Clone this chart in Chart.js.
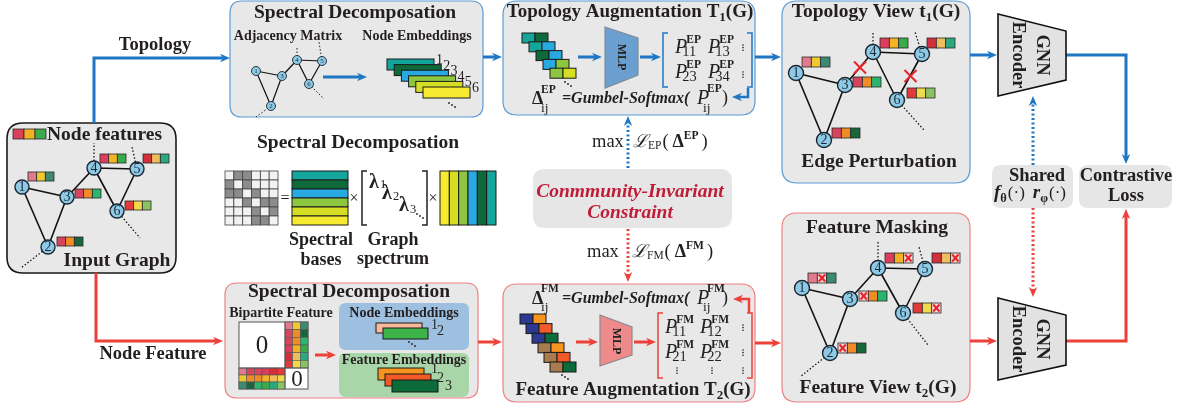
<!DOCTYPE html>
<html><head><meta charset="utf-8">
<script src="https://cdn.jsdelivr.net/npm/chart.js@4"></script>
<style>html,body{margin:0;padding:0;background:#fff}#wrap{width:1178px;height:409px;position:relative}</style>
</head><body><div id="wrap"><canvas id="c"></canvas></div>
<script>
// ---------------- DATA ----------------
const nodeNames = ['1','2','3','4','5','6'];
const edgeList = [[0,2],[0,1],[1,2],[2,3],[3,4],[3,5],[4,5]];
// input graph
const inputNodeX = [22,48,67,94,137,117];
const inputNodeY = [187,247,197,168,169,211];
const inputFeatX = [28,57,75,100,143,125];
const inputFeatY = [172,237,189,154,154,201];
const inputDots = [[3,94,143],[4,132,147],[5,140,238],[1,21,268]];
// adjacency sketch
const adjNodeX = [256,271,282,297,322,309];
const adjNodeY = [71,106,76,60,61,84];
const adjDots = [[3,297,47],[4,319,42],[5,324,99],[1,256,117]];
// topology view
const topoNodeX = [796,824,845,873,922,897];
const topoNodeY = [73,140,85,52,54,100];
const topoFeatX = [802,832,853,880,927,907];
const topoFeatY = [57,128,77,38,38,88];
const topoDots = [[3,873,33],[4,915,32],[5,924,130]];
const droppedEdges = [[2,3],[4,5]];
// feature view
const featNodeX = [802,830,850,878,925,903];
const featNodeY = [288,353,299,268,269,313];
const featFeatX = [808,838,859,885,932,913];
const featFeatY = [273,343,291,253,253,303];
const featDots = [[3,878,242],[4,919,247],[5,928,345],[1,800,377]];
const maskedFeature = [1,0,0,2,2,2];
const nodeFeatureColors = [
  ['#e07a8c','#eec92f','#3d8a72'],
  ['#d8435e','#f08c28','#17673a'],
  ['#d8435e','#f08c28','#2cb56c'],
  ['#dc3d5c','#f4b224','#3aab4b'],
  ['#d2303c','#efbd5c','#2aa882'],
  ['#e3393b','#f2d84b','#8bc263']
];
const legendColors = ['#d9415a','#f4b223','#3aaa4a'];
const spectralColors = ['#14a59b','#0e6a3b','#28a9e1','#8dc63f','#d6de23','#f6eb31'];
const embLabels = ['1','2','3','4','5','6'];
const topoEmbRows = [[0,1],[0,2],[1,2],[2,3],[3,4]];
const featEmbPalette = ['#2b3990','#f7941d','#f15a29','#0b6b3a','#a97c50'];
const featEmbRows = [[0,1],[0,2],[0,3],[4,1],[4,2],[4,3]];
const adjMatrix = [
  [0,1,1,0,0,0],
  [1,0,1,0,0,0],
  [1,1,0,1,0,0],
  [0,0,1,0,1,1],
  [0,0,0,1,0,1],
  [0,0,0,1,1,0]
];
const nodeEmbColors = ['#f9b89a','#3cb44a'];
const featureEmbColors = ['#f7941d','#f15a24','#0d6b3a'];

// ---------------- STYLE ----------------
const FF = '"Liberation Serif","Times New Roman",serif';
const INK = '#231f20';
const BLUE = '#1f77c3';
const RED = '#ec4038';
const BOXF = '#e8e8e8';
const BSTROKE = '#5b9bd5';
const RSTROKE = '#f08080';
const NODEF = '#8ecae6';
const f = (s)=>s+'px '+FF;
const B = (s)=>'bold '+s+'px '+FF;
const BI = (s)=>'bold italic '+s+'px '+FF;
const I = (s)=>'italic '+s+'px '+FF;
const TITLE = 19.5, LABEL = 18.5, SMALL = 14;

let ctx, X, Y;
function setup(chart){ ctx = chart.ctx; const sx = chart.scales.x, sy = chart.scales.y; X = v=>sx.getPixelForValue(v); Y = v=>sy.getPixelForValue(v); }
function rrect(x1,y1,x2,y2,r,fill,stroke,lw){
  ctx.save(); ctx.beginPath();
  const a=X(x1),b=Y(y1),c=X(x2),d=Y(y2);
  ctx.moveTo(a+r,b); ctx.lineTo(c-r,b); ctx.quadraticCurveTo(c,b,c,b+r); ctx.lineTo(c,d-r); ctx.quadraticCurveTo(c,d,c-r,d);
  ctx.lineTo(a+r,d); ctx.quadraticCurveTo(a,d,a,d-r); ctx.lineTo(a,b+r); ctx.quadraticCurveTo(a,b,a+r,b); ctx.closePath();
  if(fill){ctx.fillStyle=fill; ctx.fill();}
  if(stroke){ctx.strokeStyle=stroke; ctx.lineWidth=lw||1; ctx.stroke();}
  ctx.restore();
}
function rect(x,y,w,h,fill,stroke,lw){
  ctx.save(); const a=X(x),b=Y(y),c=X(x+w),d=Y(y+h);
  if(fill){ctx.fillStyle=fill; ctx.fillRect(a,b,c-a,d-b);}
  if(stroke){ctx.strokeStyle=stroke; ctx.lineWidth=lw||1; ctx.strokeRect(a,b,c-a,d-b);}
  ctx.restore();
}
function poly(pts,fill,stroke,lw){
  ctx.save(); ctx.beginPath(); pts.forEach((p,i)=>{ if(i)ctx.lineTo(X(p[0]),Y(p[1])); else ctx.moveTo(X(p[0]),Y(p[1])); }); ctx.closePath();
  if(fill){ctx.fillStyle=fill; ctx.fill();} if(stroke){ctx.strokeStyle=stroke; ctx.lineWidth=lw||1; ctx.stroke();} ctx.restore();
}
function line(pts,color,lw,dash){
  ctx.save(); ctx.strokeStyle=color; ctx.lineWidth=lw; ctx.setLineDash(dash||[]); ctx.beginPath();
  pts.forEach((p,i)=>{ if(i)ctx.lineTo(X(p[0]),Y(p[1])); else ctx.moveTo(X(p[0]),Y(p[1])); }); ctx.stroke(); ctx.restore();
}
function arrow(pts,color,lw,dash,head){
  head = head||10;
  const P = pts.map(p=>[X(p[0]),Y(p[1])]); const n=P.length;
  const [ex,ey]=P[n-1],[bx,by]=P[n-2]; const ang=Math.atan2(ey-by,ex-bx);
  const c=Math.cos(ang), s=Math.sin(ang);
  ctx.save(); ctx.strokeStyle=color; ctx.fillStyle=color; ctx.lineWidth=lw; ctx.setLineDash(dash||[]);
  ctx.beginPath(); ctx.moveTo(P[0][0],P[0][1]); for(let i=1;i<n-1;i++) ctx.lineTo(P[i][0],P[i][1]);
  ctx.lineTo(ex-c*head*0.7, ey-s*head*0.7); ctx.stroke(); ctx.setLineDash([]);
  const hw=head*0.42;
  ctx.beginPath(); ctx.moveTo(ex,ey);
  ctx.lineTo(ex-c*head-s*hw, ey-s*head+c*hw);
  ctx.lineTo(ex-c*head*0.7, ey-s*head*0.7);
  ctx.lineTo(ex-c*head+s*hw, ey-s*head-c*hw); ctx.closePath(); ctx.fill(); ctx.restore();
}
function text(str,x,y,font,color,align,base){
  ctx.save(); ctx.font=font; ctx.fillStyle=color||INK; ctx.textAlign=align||'left'; ctx.textBaseline=base||'alphabetic';
  ctx.fillText(str,X(x),Y(y)); ctx.restore();
}
function rich(segs,x,y,align,color){
  ctx.save(); ctx.fillStyle=color||INK; ctx.textBaseline='alphabetic'; ctx.textAlign='left';
  let tot=0; segs.forEach(s=>{ctx.font=s[1]; tot+=ctx.measureText(s[0]).width+(s[2]||0);});
  let cx = align==='center'? X(x)-tot/2 : X(x);
  segs.forEach(s=>{ctx.font=s[1]; cx+=(s[2]||0); ctx.fillText(s[0],cx,Y(y)+(s[3]||0)); cx+=ctx.measureText(s[0]).width;});
  ctx.restore();
}
function vtext(str,x,y,font,color){
  ctx.save(); ctx.translate(X(x),Y(y)); ctx.rotate(Math.PI/2); ctx.font=font; ctx.fillStyle=color||INK; ctx.textAlign='center'; ctx.textBaseline='middle';
  ctx.fillText(str,0,0); ctx.restore();
}
function dotsDiag(x,y){ ctx.save(); ctx.fillStyle=INK; for(let k=0;k<3;k++){ctx.beginPath(); ctx.arc(X(x+k*3),Y(y+k*2),0.9,0,7); ctx.fill();} ctx.restore(); }
function dotsV(x,y){ ctx.save(); ctx.fillStyle=INK; for(let k=0;k<3;k++){ctx.beginPath(); ctx.arc(X(x),Y(y+k*2.6),0.8,0,7); ctx.fill();} ctx.restore(); }
function graphEdges(xs,ys,dots,lw){
  edgeList.forEach(e=>line([[xs[e[0]],ys[e[0]]],[xs[e[1]],ys[e[1]]]],'#111',lw));
  dots.forEach(d=>line([[xs[d[0]],ys[d[0]]],[d[1],d[2]]],'#111',lw*0.8,[1.5,2]));
}
function nodeLabels(xs,ys,font){ xs.forEach((x,i)=>text(nodeNames[i],x,ys[i]+0.5,font,'#1a2a38','center','middle')); }
function feats(xs,ys,w,h,masks){
  xs.forEach((x,i)=>{ const cw=w/3; for(let k=0;k<3;k++){
    const m = masks && masks[i]===k;
    rect(x+k*cw,ys[i],cw,h,m?'#f3d6d6':nodeFeatureColors[i][k],'#2a2a2a',0.8);
    if(m){ line([[x+k*cw+1.5,ys[i]+1.5],[x+(k+1)*cw-1.5,ys[i]+h-1.5]],'#e8232a',2); line([[x+(k+1)*cw-1.5,ys[i]+1.5],[x+k*cw+1.5,ys[i]+h-1.5]],'#e8232a',2); }
  }});
}
function drawP(x,y,sub,sup){
  ctx.save(); ctx.font=I(20); const w=ctx.measureText('P').width; ctx.restore();
  text('P',x,y,I(20));
  text(sup,x+w-1,y-10,B(11.5));
  text(sub,x+w-5,y+3,f(14.5));
}
function bracket(x,y1,y2,dir,color){ line([[x+dir*5,y1],[x,y1],[x,y2],[x+dir*5,y2]],color,1.5); }

function drawBack(chart){
  setup(chart);
  // boxes
  rrect(7,123,176,273,16,BOXF,'#1a1a1a',1.6);
  rrect(230,1,483,117,12,BOXF,BSTROKE,1.2);
  rrect(503,1,755,115,14,BOXF,BSTROKE,1.2);
  rrect(782,1,970,183,15,BOXF,BSTROKE,1.2);
  rrect(225,283,478,398,12,BOXF,RSTROKE,1.2);
  rrect(503,284,755,402,14,BOXF,RSTROKE,1.2);
  rrect(782,213,970,402,15,BOXF,RSTROKE,1.2);
  rrect(533,169,732,228,12,'#e6e6e6');
  rrect(992,165,1073,208,9,'#e6e6e6');
  rrect(1079,165,1172,208,9,'#e6e6e6');
  rrect(339,303,469,350,7,'#9dbfe0');
  rrect(339,353,469,397,7,'#a9d6a9');

  // flow arrows
  arrow([[94,123],[94,58],[230,58]],BLUE,3);
  arrow([[96,273],[96,341],[223,341]],RED,3);
  arrow([[483,57],[502,57]],BLUE,3);
  arrow([[323,77],[367,77]],BLUE,3);
  arrow([[578,57],[602,57]],BLUE,3);
  arrow([[640,57],[661,57]],BLUE,3);
  arrow([[755,57],[781,57]],BLUE,3);
  arrow([[970,55],[997,55]],BLUE,3);
  arrow([[1066,55],[1126,55],[1126,164]],BLUE,3);
  arrow([[748,88],[748,97],[732,97]],BLUE,2.5);
  arrow([[628,168],[628,116]],BLUE,3,[2,2.5]);
  arrow([[628,229],[628,282]],RED,3,[2,2.5]);
  arrow([[1033,165],[1033,96]],BLUE,3,[2,2.5]);
  arrow([[1033,208],[1033,297]],RED,3,[2,2.5]);
  arrow([[478,342],[502,342]],RED,3);
  arrow([[315,355],[336,355]],RED,3);
  arrow([[576,342],[598,342]],RED,3);
  arrow([[634,342],[656,342]],RED,3);
  arrow([[755,343],[781,343]],RED,3);
  arrow([[970,341],[997,341]],RED,3);
  arrow([[1066,341],[1126,341],[1126,209]],RED,3);
  arrow([[749,313],[749,299],[733,299]],RED,2.5);

  // graph edges
  graphEdges(inputNodeX,inputNodeY,inputDots,1.6);
  graphEdges(adjNodeX,adjNodeY,adjDots,1.2);
  graphEdges(topoNodeX,topoNodeY,topoDots,1.6);
  graphEdges(featNodeX,featNodeY,featDots,1.6);

  // texts - left
  text('Topology',155,50,B(LABEL),INK,'center');
  text('Node Feature',153,359,B(LABEL),INK,'center');
  legendColors.forEach((c,k)=>rect(13+k*11,129,11,10,c,'#2a2a2a',0.8));
  text('Node features',47,140,B(TITLE));
  text('Input Graph',117,266,B(TITLE),INK,'center');

  // top spectral
  text('Spectral Decomposation',355,18,B(TITLE),INK,'center');
  text('Adjacency Matrix',288,40,B(SMALL),INK,'center');
  text('Node Embeddings',417,40,B(SMALL),INK,'center');
  spectralColors.forEach((c,i)=>{ const x=387+i*7.2, y=59+i*5.6; rect(x,y,47,11,c,'#1a1a1a',1); text(embLabels[i],x+49,y+5,f(14)); });
  dotsDiag(449,103);

  // topology augmentation
  rich([['Topology Augmentation T',B(19)],['1',B(13),0,4],['(G)',B(19)]],630,17,'center');
  topoEmbRows.forEach((r,i)=>{ const x=522+i*7, y=33+i*8.8; rect(x,y,13,10,spectralColors[r[0]],'#1a1a1a',1); rect(x+13,y,13,10,spectralColors[r[1]],'#1a1a1a',1); });
  dotsDiag(565,82);
  poly([[605,27],[638,38],[638,75],[605,88]],'#6b9fd0','#7f8c99',1.2);
  vtext('MLP',621,57,B(12),'#222');
  bracket(663,33,87,1,BLUE); bracket(752,33,87,-1,BLUE);
  drawP(675,53,'11','EP'); drawP(708,53,'13','EP'); drawP(675,78,'23','EP'); drawP(708,78,'34','EP');
  dotsV(743,45); dotsV(743,72);
  text('Δ',532,104,B(18)); text('EP',541,93,B(11.5)); text('ij',541,112,f(13.5));
  text('=Gumbel-Softmax(',562,103,BI(16));
  text('P',697,104,I(20)); text('EP',707,92,B(11.5)); text('ij',703,112,f(13.5)); text(')',722,103,f(18));

  // middle
  text('max',592,147,f(18.5)); rich([['ℒ',I(18)],['EP',f(11.5),0,2],['(',f(18.5),1],['Δ',B(18),4],['EP',B(11.5),0,-8],[')',f(18.5),3]],633,147);
  text('Conmmunity-Invariant',630,197,BI(TITLE),'#c01c38','center');
  text('Constraint',630,218,BI(TITLE),'#c01c38','center');
  text('max',587,257,f(18.5)); rich([['ℒ',I(18)],['FM',f(11.5),0,2],['(',f(18.5),1],['Δ',B(18),4],['FM',B(11.5),0,-8],[')',f(18.5),3]],632,257);

  text('Spectral Decomposation',358,148,B(TITLE),INK,'center');
  const cw=53/6, ch=54/6;
  adjMatrix.forEach((row,r)=>row.forEach((v,c)=>rect(225+c*cw,171+r*ch,cw,ch,v?'#8c8c8c':'#f2f2f2','#444',0.8)));
  text('=',285,199,f(16),INK,'center','middle');
  spectralColors.forEach((c,i)=>rect(292,171+i*9,56,9,c,'#1a1a1a',1));
  text('×',354,199,f(16),INK,'center','middle');
  bracket(362,171,225,1,INK); bracket(427,171,225,-1,INK);
  text('λ',369,188,B(20)); text('1',380,188,f(12.5));
  text('λ',382,199,B(20)); text('2',393,200,f(12.5));
  text('λ',399,211,B(20)); text('3',410,213,f(12.5)); dotsDiag(417,214);
  text('×',433,199,f(16),INK,'center','middle');
  spectralColors.slice().reverse().forEach((c,i)=>rect(440+i*56/6,171,56/6,54,c,'#1a1a1a',1));
  text('Spectral',321,245,B(18),INK,'center'); text('bases',321,265,B(18),INK,'center');
  text('Graph',393,245,B(18),INK,'center'); text('spectrum',393,264,B(18),INK,'center');

  // bottom spectral
  text('Spectral Decomposation',349,297,B(TITLE),INK,'center');
  text('Bipartite Feature',281,317,B(SMALL),INK,'center');
  rect(239,322,69,67,'#ffffff','#555',1);
  const rw=23/3, rh=46/6;
  nodeFeatureColors.forEach((cols,i)=>cols.forEach((c,k)=>rect(285+k*rw,322+i*rh,rw,rh,c,'#555',0.6)));
  nodeFeatureColors.forEach((cols,i)=>cols.forEach((c,k)=>rect(239+i*(46/6),368+k*7,46/6,7,c,'#555',0.6)));
  line([[285,322],[285,389]],'#555',1); line([[239,368],[308,368]],'#555',1);
  text('0',262,346,f(25),INK,'center','middle');
  text('0',297,380,f(23),INK,'center','middle');
  text('Node Embeddings',404,317,B(SMALL),INK,'center');
  rect(376,323,46,10,nodeEmbColors[0],'#1a1a1a',1); rect(383,328,45,11,nodeEmbColors[1],'#1a1a1a',1);
  text('1',431,329,f(14)); text('2',437,335,f(14)); dotsDiag(409,342);
  text('Feature Embeddings',404,364,B(SMALL),INK,'center');
  featureEmbColors.forEach((c,i)=>{ rect(378+i*7,368+i*6,46,12,c,'#1a1a1a',1); });
  text('1',431,373,f(14)); text('2',437,382,f(14)); text('3',445,390,f(14));

  // feature augmentation
  text('Δ',532,304,B(18)); text('FM',541,292,B(11.5)); text('ij',541,311,f(13.5));
  text('=Gumbel-Softmax(',562,303,BI(16));
  text('P',697,304,I(20)); text('FM',707,292,B(11.5)); text('ij',703,311,f(13.5)); text(')',722,303,f(18));
  featEmbRows.forEach((r,i)=>{ const x=520+i*6, y=314+i*9.6; rect(x,y,13,10,featEmbPalette[r[0]],'#1a1a1a',1); rect(x+13,y,13,10,featEmbPalette[r[1]],'#1a1a1a',1); });
  dotsDiag(562,375);
  poly([[600,315],[632,327],[632,355],[600,366]],'#ef8a8a','#8a8a8a',1.2);
  vtext('MLP',616,341,B(12),'#222');
  bracket(658,313,378,1,RED); bracket(752,313,378,-1,RED);
  drawP(665,333,'11','FM'); drawP(700,333,'12','FM'); drawP(665,358,'21','FM'); drawP(700,358,'22','FM');
  dotsV(743,325); dotsV(743,350); dotsV(677,368); dotsV(712,368); dotsV(743,368);
  rich([['Feature Augmentation T',B(19)],['2',B(13),0,4],['(G)',B(19)]],633,395,'center');

  // views
  rich([['Topology View t',B(TITLE)],['1',B(13),0,4],['(G)',B(TITLE)]],876,17,'center');
  text('Edge Perturbation',879,167,B(TITLE),INK,'center');
  text('Feature Masking',877,233,B(TITLE),INK,'center');
  rich([['Feature View t',B(TITLE)],['2',B(13),0,4],['(G)',B(TITLE)]],878,393,'center');

  // encoders
  poly([[998,14],[1066,31],[1066,80],[998,96]],'#e2e2e2','#111',1.6);
  poly([[998,298],[1066,315],[1066,365],[998,380]],'#e2e2e2','#111',1.6);
  vtext('GNN',1042,55,B(LABEL)); vtext('Encoder',1018,55,B(LABEL));
  vtext('GNN',1042,339,B(LABEL)); vtext('Encoder',1018,339,B(LABEL));
  text('Shared',1037,181,B(LABEL),INK,'center');
  rich([['f',BI(19)],['θ',B(12.5),0,4],['(·)',f(17),1],['r',BI(19),8],['φ',B(12.5),0,4],['(·)',f(17),1]],994,198);
  text('Contrastive',1126,181,B(LABEL),INK,'center');
  text('Loss',1126,201,B(LABEL),INK,'center');
}
function drawFront(chart){
  setup(chart);
  nodeLabels(inputNodeX,inputNodeY,f(14));
  nodeLabels(adjNodeX,adjNodeY,f(7));
  nodeLabels(topoNodeX,topoNodeY,f(14));
  nodeLabels(featNodeX,featNodeY,f(14));
  feats(inputFeatX,inputFeatY,26,9,null);
  feats(topoFeatX,topoFeatY,28,10,null);
  feats(featFeatX,featFeatY,28,10,maskedFeature);
  droppedEdges.forEach(e=>{ const mx=(topoNodeX[e[0]]+topoNodeX[e[1]])/2+1, my=(topoNodeY[e[0]]+topoNodeY[e[1]])/2-1;
    line([[mx-6,my-6],[mx+6,my+6]],'#e8232a',2); line([[mx+6,my-6],[mx-6,my+6]],'#e8232a',2); });
}

const nodeDS = (xs,ys,r)=>({type:'scatter', data:xs.map((x,i)=>({x,y:ys[i]})), pointRadius:r, pointHoverRadius:r, backgroundColor:NODEF, borderColor:'#1a2530', borderWidth:r>5?1.4:0.9, clip:false});

new Chart(document.getElementById('c'),{
  type:'scatter',
  data:{datasets:[nodeDS(inputNodeX,inputNodeY,7),nodeDS(adjNodeX,adjNodeY,4.5),nodeDS(topoNodeX,topoNodeY,7.5),nodeDS(featNodeX,featNodeY,7.5)]},
  options:{responsive:true,maintainAspectRatio:false,animation:false,events:[],layout:{padding:0,autoPadding:false},
    plugins:{legend:{display:false},tooltip:{enabled:false}},
    scales:{x:{type:'linear',min:0,max:1178,display:false},y:{type:'linear',min:0,max:409,reverse:true,display:false}}},
  plugins:[{id:'diagram',beforeDatasetsDraw:drawBack,afterDatasetsDraw:drawFront}]
});
</script></body></html>
